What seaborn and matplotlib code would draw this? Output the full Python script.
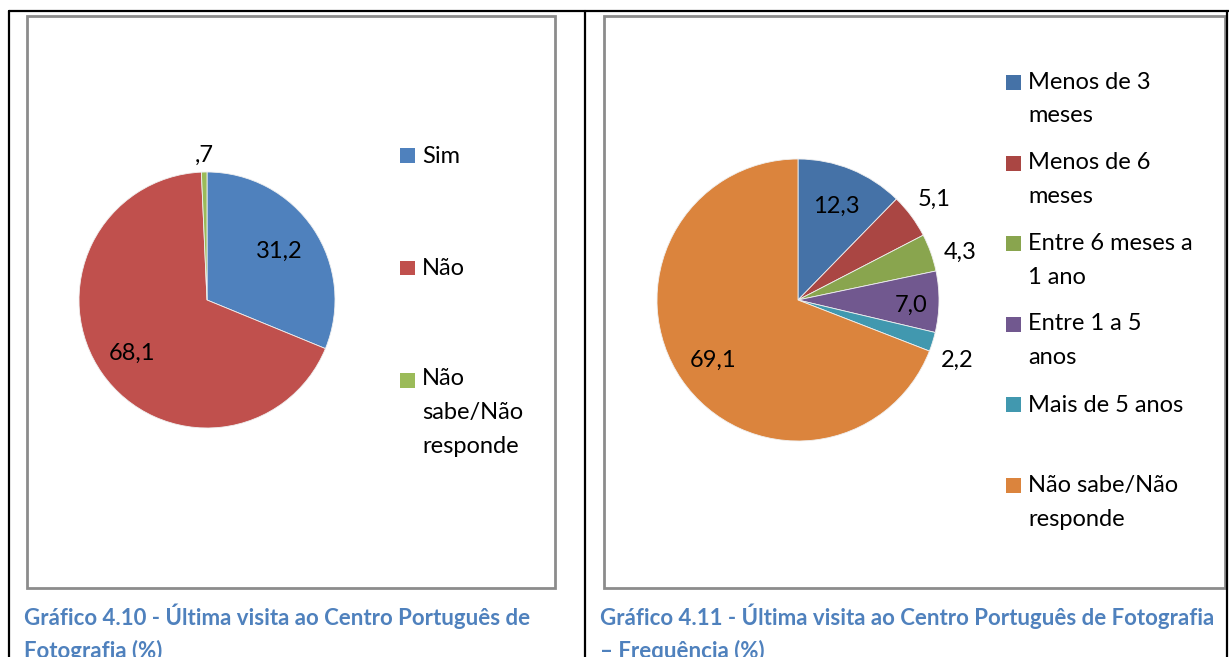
import matplotlib
matplotlib.use("Agg")
import matplotlib.pyplot as plt
from matplotlib.patches import Rectangle
from matplotlib.lines import Line2D
import numpy as np
import seaborn as sns

# ---------------- data ----------------
cats1 = ["Sim", "Não", "Não\nsabe/Não\nresponde"]
vals1 = [31.2, 68.1, 0.7]
labels1 = ["31,2", "68,1", ",7"]
colors1 = ["#4F81BD", "#C0504D", "#9BBB59"]

cats2 = ["Menos de 3\nmeses", "Menos de 6\nmeses", "Entre 6 meses a\n1 ano",
         "Entre 1 a 5\nanos", "Mais de 5 anos", "Não sabe/Não\nresponde"]
vals2 = [12.3, 5.1, 4.3, 7.0, 2.2, 69.1]
labels2 = ["12,3", "5,1", "4,3", "7,0", "2,2", "69,1"]
colors2 = ["#4572A7", "#AA4643", "#89A54E", "#71588F", "#4198AF", "#DB843D"]

caption1 = "Gráfico 4.10 - Última visita ao Centro Português de\nFotografia (%)"
caption2 = "Gráfico 4.11 - Última visita ao Centro Português de Fotografia\n– Frequência (%)"

# label placement (radius factor, angle nudge in degrees)
lab1_r = [0.68, 0.72, 1.13]
lab1_d = [0, 0, 0]
lab2_r = [0.72, 1.2, 1.2, 0.80, 1.205, 0.737]
lab2_d = [0, 0, -3.4, -1.8, -3.4, 0.8]

# ---------------- style ----------------
sns.set_theme(style="white")
plt.rcParams["font.family"] = ["Lato", "DejaVu Sans"]
FS = 17
LINE_PX = 32.5     # legend line step in pixels
LS = 1.76          # matching linespacing

W, H = 1229, 657
fig = plt.figure(figsize=(W / 100, H / 100), dpi=100)
fig.patch.set_facecolor("white")


def fx(x):
    return x / W


def fy(y):
    return 1 - y / H


# table borders
for (x0, y0, x1, y1) in [(9, 11, W, 11), (9, 11, 9, H), (585, 11, 585, H), (1227, 11, 1227, H)]:
    fig.add_artist(Line2D([fx(x0), fx(x1)], [fy(y0), fy(y1)], color="black", lw=1.6,
                          transform=fig.transFigure))

# gray chart boxes
for (x0, y0, x1, y1) in [(27, 16, 555, 588), (604, 16, 1225, 588)]:
    fig.add_artist(Rectangle((fx(x0), fy(y1)), fx(x1) - fx(x0), fy(y0) - fy(y1),
                             fill=False, edgecolor="#8C8C8C", lw=2.0, transform=fig.transFigure))


def draw_pie(cx, cy, R, vals, colors, labels, rfac, dth):
    ax = fig.add_axes([fx(cx - R), fy(cy + R), 2 * R / W, 2 * R / H])
    wedges, _ = ax.pie(vals, colors=colors, startangle=90, counterclock=False,
                       wedgeprops=dict(linewidth=0.6, edgecolor="#f0f0f0"))
    for w, lab, r, d in zip(wedges, labels, rfac, dth):
        mid = np.deg2rad((w.theta1 + w.theta2) / 2 + d)
        ax.text(r * np.cos(mid), r * np.sin(mid), lab, ha="center", va="center",
                fontsize=FS, color="black", clip_on=False)
    ax.set_xlim(-1, 1)
    ax.set_ylim(-1, 1)
    ax.set_aspect("equal")
    ax.axis("off")
    return ax


draw_pie(207, 300, 128, vals1, colors1, labels1, lab1_r, lab1_d)
draw_pie(798, 300, 141, vals2, colors2, labels2, lab2_r, lab2_d)


def draw_legend(cats, colors, sq_x, txt_x, base0, step):
    for i, (c, col) in enumerate(zip(cats, colors)):
        b = base0 + i * step
        nl = c.count("\n")
        fig.add_artist(Rectangle((fx(sq_x), fy(b)), 15 / W, 15 / H, facecolor=col,
                                 edgecolor="none", transform=fig.transFigure))
        # va='baseline' aligns the last line, so shift down by the extra lines
        fig.text(fx(txt_x), fy(b + nl * LINE_PX), c, fontsize=FS, color="black",
                 va="baseline", ha="left", linespacing=LS)


draw_legend(cats1, colors1, 400, 422, 163, 112.5)
draw_legend(cats2, colors2, 1006, 1028, 90, 80.6)

# captions
fig.text(fx(24), fy(629 + 29), caption1, fontsize=16, fontweight="bold", color="#4F81BD",
         va="baseline", ha="left", linespacing=1.62)
fig.text(fx(600), fy(629 + 29), caption2, fontsize=16, fontweight="bold", color="#4F81BD",
         va="baseline", ha="left", linespacing=1.62)

fig.savefig("out.png", dpi=100, facecolor="white")
